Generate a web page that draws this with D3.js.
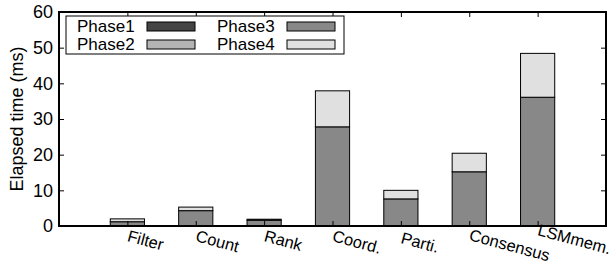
<!DOCTYPE html>
<html>
<head>
<meta charset="utf-8">
<script src="https://cdn.jsdelivr.net/npm/d3@7"></script>
<style>
  body { margin: 0; background: #fff; }
  text { font-family: "Liberation Sans", Arial, sans-serif; fill: #000; }
</style>
</head>
<body>
<svg id="chart"></svg>
<script>
/* data */
var categories = ['Filter', 'Count', 'Rank', 'Coord.', 'Parti.', 'Consensus', 'LSMmem.'];
var phases = ['Phase1', 'Phase2', 'Phase3', 'Phase4'];
var phase1 = [0, 0, 0, 0, 0, 0, 0];
var phase2 = [0, 0, 0, 0, 0, 0, 0];
var phase3 = [1.2, 4.3, 1.6, 27.8, 7.6, 15.2, 36.1];
var phase4 = [0.8, 1.0, 0.3, 10.1, 2.4, 5.2, 12.3];
var yTicks = [0, 10, 20, 30, 40, 50, 60];
var colors = ['#444444', '#b4b4b4', '#888888', '#e0e0e0'];

var W = 616, H = 267;
var m = {left: 59, right: 10, top: 12, bottom: 41};

var svg = d3.select('#chart').attr('width', W).attr('height', H);

var x = d3.scaleLinear().domain([0, categories.length + 1]).range([m.left, W - m.right]);
var y = d3.scaleLinear().domain([0, 60]).range([H - m.bottom, m.top]);

var rows = categories.map(function (c, i) {
    return {cat: c, i: i + 1, Phase1: phase1[i], Phase2: phase2[i], Phase3: phase3[i], Phase4: phase4[i]};
});
var stacked = d3.stack().keys(phases)(rows);

var barW = (x(1) - x(0)) * 0.5;

/* bars */
svg.append('g').selectAll('g')
    .data(stacked)
    .join('g')
    .attr('fill', function (d, k) { return colors[k]; })
    .selectAll('rect')
    .data(function (d) { return d.filter(function (s) { return s[1] - s[0] > 0; }); })
    .join('rect')
    .attr('x', function (d) { return x(d.data.i) - barW / 2; })
    .attr('width', barW)
    .attr('y', function (d) { return y(d[1]); })
    .attr('height', function (d) { return y(d[0]) - y(d[1]); })
    .attr('stroke', '#000')
    .attr('stroke-width', 1);

/* y axes, ticks inward */
svg.append('g')
    .attr('transform', 'translate(' + m.left + ',0)')
    .call(d3.axisLeft(y).tickValues(yTicks).tickSizeInner(-5).tickSizeOuter(0).tickPadding(6))
    .call(function (g) {
        g.select('.domain').remove();
        g.selectAll('text').style('font-size', '18px');
    });
svg.append('g')
    .attr('transform', 'translate(' + (W - m.right) + ',0)')
    .call(d3.axisRight(y).tickValues(yTicks).tickSizeInner(-5).tickSizeOuter(0).tickFormat(''))
    .call(function (g) { g.select('.domain').remove(); });

/* x ticks top and bottom */
var xTicks = d3.range(1, categories.length + 1);
svg.append('g')
    .attr('transform', 'translate(0,' + m.top + ')')
    .call(d3.axisTop(x).tickValues(xTicks).tickSizeInner(-5).tickSizeOuter(0).tickFormat(''))
    .call(function (g) { g.select('.domain').remove(); });
svg.append('g')
    .attr('transform', 'translate(0,' + (H - m.bottom) + ')')
    .call(d3.axisBottom(x).tickValues(xTicks).tickSizeInner(-5).tickSizeOuter(0).tickFormat(''))
    .call(function (g) { g.select('.domain').remove(); });

/* x labels, rotated; a few are nudged up/down as in the original */
var labelDy = {'Parti.': 2, 'Consensus': -1, 'LSMmem.': -6};
svg.append('g').selectAll('text')
    .data(categories)
    .join('text')
    .attr('transform', function (d, i) {
        var dy = labelDy[d] || 0;
        return 'translate(' + (x(i + 1) - 1) + ',' + (H - m.bottom + 15 + dy) + ') rotate(15)';
    })
    .style('font-size', '16.5px')
    .text(function (d) { return d; });

/* frame */
svg.append('rect')
    .attr('x', m.left).attr('y', m.top)
    .attr('width', W - m.left - m.right).attr('height', H - m.top - m.bottom)
    .attr('fill', 'none').attr('stroke', '#000').attr('stroke-width', 2);

/* y title */
svg.append('text')
    .attr('transform', 'translate(23,' + ((m.top + H - m.bottom) / 2) + ') rotate(-90)')
    .attr('text-anchor', 'middle')
    .style('font-size', '18px')
    .text('Elapsed time (ms)');

/* legend */
var leg = svg.append('g');
leg.append('rect')
    .attr('x', 66).attr('y', 16).attr('width', 278).attr('height', 38)
    .attr('fill', '#fff').attr('stroke', '#000').attr('stroke-width', 1);
phases.forEach(function (p, k) {
    var col = Math.floor(k / 2), row = k % 2;
    var gx = 77 + col * 140, gy = 26 + row * 18;
    leg.append('text')
        .attr('x', gx).attr('y', gy + 6)
        .style('font-size', '17px')
        .text(p);
    leg.append('rect')
        .attr('x', gx + 70).attr('y', gy - 4)
        .attr('width', 48).attr('height', 9)
        .attr('fill', colors[k]).attr('stroke', '#000').attr('stroke-width', 1);
});
</script>
</body>
</html>
